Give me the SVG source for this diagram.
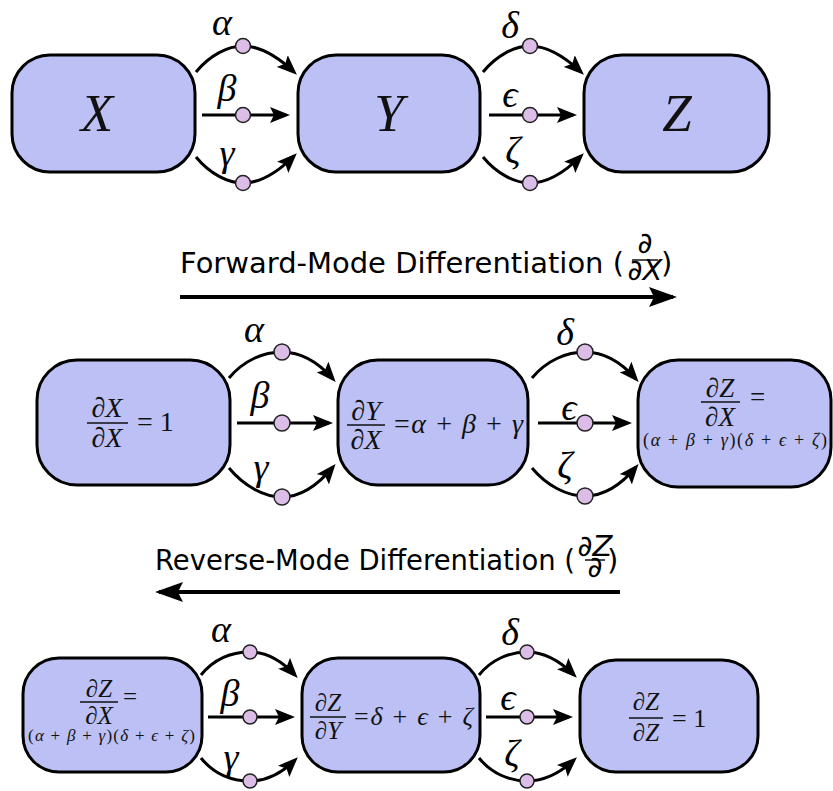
<svg xmlns="http://www.w3.org/2000/svg" width="833" height="791" viewBox="0 0 833 791">
<defs>
<style>
.node{fill:#bcc0f4;stroke:#000;stroke-width:3}
.edge{fill:none;stroke:#000;stroke-width:3}
.big{fill:none;stroke:#000;stroke-width:4}
.dot{fill:#dcbde8;stroke:#222;stroke-width:1.5}
.m{font-family:'Liberation Serif',serif;fill:#111}
.i{font-style:italic}
.lbl{font-family:'Liberation Serif',serif;font-style:italic;font-size:38px;text-anchor:middle;fill:#000}
.t{font-family:'DejaVu Sans',sans-serif;font-size:29px;fill:#000}
.bar{stroke:#111;stroke-width:1.5}
</style>
<marker id="ah" markerUnits="userSpaceOnUse" viewBox="0 0 20 16" markerWidth="20" markerHeight="16" refX="16" refY="8" orient="auto">
<path d="M0,0 L20,8 L0,16 L4,8 z" fill="#000"/>
</marker>
<marker id="bh" markerUnits="userSpaceOnUse" viewBox="0 0 28 20" markerWidth="28" markerHeight="20" refX="24" refY="10" orient="auto">
<path d="M0,0 L28,10 L0,20 L5,10 z" fill="#000"/>
</marker>
</defs>

<!-- Row 1 nodes -->
<g id="X"><rect class="node" x="12" y="55" width="183" height="117" rx="38" ry="38"/>
<text class="m i" x="97" y="131" font-size="53" text-anchor="middle">X</text></g>
<g id="Y"><rect class="node" x="298" y="55" width="182" height="117" rx="38" ry="38"/>
<text class="m i" x="389" y="131" font-size="53" text-anchor="middle">Y</text></g>
<g id="Z"><rect class="node" x="584" y="55" width="185" height="117" rx="38" ry="38"/>
<text class="m i" x="677" y="131" font-size="53" text-anchor="middle">Z</text></g>

<!-- Titles -->
<g id="forward-title">
<text class="t" x="180" y="273" textLength="444" lengthAdjust="spacingAndGlyphs">Forward-Mode Differentiation (</text>
<text class="t" x="645" y="253" font-size="18" text-anchor="middle">∂</text>
<line class="bar" x1="632" y1="260" x2="658" y2="260"/>
<text class="t" x="645" y="280" font-size="18" text-anchor="middle">∂<tspan font-style="italic">X</tspan></text>
<text class="t" x="661" y="273">)</text>
</g>
<g id="reverse-title">
<text class="t" x="155" y="570" textLength="420" lengthAdjust="spacingAndGlyphs">Reverse-Mode Differentiation (</text>
<text class="t" x="595" y="556" font-size="16" text-anchor="middle">∂<tspan font-style="italic">Z</tspan></text>
<line class="bar" x1="585" y1="560" x2="605" y2="560"/>
<text class="t" x="595" y="577" font-size="16" text-anchor="middle">∂</text>
<text class="t" x="607" y="570">)</text>
</g>

<!-- Row 2 nodes -->
<g id="dXdX"><rect class="node" x="37" y="360" width="193" height="125" rx="40" ry="40"/>
<text class="m" x="107" y="417" font-size="28" text-anchor="middle">∂<tspan class="i">X</tspan></text>
<line class="bar" x1="87" y1="423" x2="128" y2="423"/>
<text class="m" x="107" y="447" font-size="28" text-anchor="middle">∂<tspan class="i">X</tspan></text>
<text class="m" x="137" y="431" font-size="28">= 1</text></g>
<g id="dYdX"><rect class="node" x="338" y="360" width="190" height="125" rx="40" ry="40"/>
<text class="m" x="366" y="420" font-size="28" text-anchor="middle">∂<tspan class="i">Y</tspan></text>
<line class="bar" x1="347" y1="425" x2="385" y2="425"/>
<text class="m" x="366" y="449" font-size="28" text-anchor="middle">∂<tspan class="i">X</tspan></text>
<text class="m" x="394" y="433" font-size="28" textLength="129" lengthAdjust="spacing">=<tspan class="i">α</tspan> + <tspan class="i">β</tspan> + <tspan class="i">γ</tspan></text></g>
<g id="dZdX-fwd"><rect class="node" x="638" y="360" width="193" height="127" rx="40" ry="40"/>
<text class="m" x="720" y="397" font-size="27" text-anchor="middle">∂<tspan class="i">Z</tspan></text>
<line class="bar" x1="701" y1="402" x2="740" y2="402"/>
<text class="m" x="720" y="426" font-size="27" text-anchor="middle">∂<tspan class="i">X</tspan></text>
<text class="m" x="750" y="406" font-size="27">=</text>
<text class="m" x="643" y="446" font-size="18" textLength="184" lengthAdjust="spacing">(<tspan class="i">α</tspan> + <tspan class="i">β</tspan> + <tspan class="i">γ</tspan>)(<tspan class="i">δ</tspan> + <tspan class="i">ϵ</tspan> + <tspan class="i">ζ</tspan>)</text></g>

<!-- Row 3 nodes -->
<g id="dZdX-rev"><rect class="node" x="23" y="658" width="179" height="114" rx="36" ry="36"/>
<text class="m" x="99" y="697" font-size="25" text-anchor="middle">∂<tspan class="i">Z</tspan></text>
<line class="bar" x1="80" y1="702" x2="118" y2="702"/>
<text class="m" x="99" y="724" font-size="25" text-anchor="middle">∂<tspan class="i">X</tspan></text>
<text class="m" x="123" y="705" font-size="25">=</text>
<text class="m" x="28" y="741" font-size="17" textLength="167" lengthAdjust="spacing">(<tspan class="i">α</tspan> + <tspan class="i">β</tspan> + <tspan class="i">γ</tspan>)(<tspan class="i">δ</tspan> + <tspan class="i">ϵ</tspan> + <tspan class="i">ζ</tspan>)</text></g>
<g id="dZdY"><rect class="node" x="302" y="658" width="178" height="114" rx="36" ry="36"/>
<text class="m" x="328" y="711" font-size="25" text-anchor="middle">∂<tspan class="i">Z</tspan></text>
<line class="bar" x1="310" y1="717" x2="346" y2="717"/>
<text class="m" x="328" y="739" font-size="25" text-anchor="middle">∂<tspan class="i">Y</tspan></text>
<text class="m" x="354" y="725" font-size="26" textLength="119" lengthAdjust="spacing">=<tspan class="i">δ</tspan> + <tspan class="i">ϵ</tspan> + <tspan class="i">ζ</tspan></text></g>
<g id="dZdZ"><rect class="node" x="580" y="660" width="178" height="112" rx="36" ry="36"/>
<text class="m" x="646" y="710" font-size="25" text-anchor="middle">∂<tspan class="i">Z</tspan></text>
<line class="bar" x1="629" y1="718" x2="663" y2="718"/>
<text class="m" x="646" y="741" font-size="25" text-anchor="middle">∂<tspan class="i">Z</tspan></text>
<text class="m" x="672" y="727" font-size="26">= 1</text></g>

<!-- Connectors -->
<g id="connectors">
<path class="big" d="M180,297 L673,297" marker-end="url(#bh)"/>
<path class="big" d="M620,592 L159,592" marker-end="url(#bh)"/>

<path class="edge" d="M196,72 C210,55 228,46 243,46 C260,46 278,57 294,72" marker-end="url(#ah)"/>
<path class="edge" d="M202,115 L286,115" marker-end="url(#ah)"/>
<path class="edge" d="M196,157 C210,174 228,183 243,183 C260,183 278,172 294,156" marker-end="url(#ah)"/>
<path class="edge" d="M483,72 C497,55 515,46 530,46 C547,46 565,57 581,72" marker-end="url(#ah)"/>
<path class="edge" d="M489,115 L573,115" marker-end="url(#ah)"/>
<path class="edge" d="M483,157 C497,174 515,183 530,183 C547,183 565,172 581,156" marker-end="url(#ah)"/>

<path class="edge" d="M229,378 C244,360 264,352 282,352 C300,352 318,362 333,379" marker-end="url(#ah)"/>
<path class="edge" d="M237,423 L329,423" marker-end="url(#ah)"/>
<path class="edge" d="M229,468 C244,486 264,497 282,497 C300,497 318,485 333,467" marker-end="url(#ah)"/>
<path class="edge" d="M532,378 C547,360 567,352 585,352 C603,352 621,362 636,379" marker-end="url(#ah)"/>
<path class="edge" d="M538,423 L628,423" marker-end="url(#ah)"/>
<path class="edge" d="M532,468 C547,486 567,496 585,496 C603,496 621,485 636,467" marker-end="url(#ah)"/>

<path class="edge" d="M201,675 C214,659 232,652 250,652 C266,652 282,661 295,675" marker-end="url(#ah)"/>
<path class="edge" d="M208,717 L291,717" marker-end="url(#ah)"/>
<path class="edge" d="M201,758 C214,774 232,781 250,781 C266,781 282,773 295,760" marker-end="url(#ah)"/>
<path class="edge" d="M479,675 C492,659 510,652 527,652 C544,652 560,661 574,675" marker-end="url(#ah)"/>
<path class="edge" d="M486,717 L569,717" marker-end="url(#ah)"/>
<path class="edge" d="M479,758 C492,774 510,781 527,781 C544,781 560,773 574,760" marker-end="url(#ah)"/>

<circle class="dot" cx="243" cy="46" r="7.5"/><circle class="dot" cx="243" cy="115" r="7.5"/><circle class="dot" cx="243" cy="183" r="7.5"/>
<circle class="dot" cx="530" cy="46" r="7.5"/><circle class="dot" cx="530" cy="115" r="7.5"/><circle class="dot" cx="530" cy="183" r="7.5"/>
<circle class="dot" cx="282" cy="352" r="8"/><circle class="dot" cx="282" cy="423" r="8"/><circle class="dot" cx="282" cy="497" r="8"/>
<circle class="dot" cx="585" cy="352" r="8"/><circle class="dot" cx="585" cy="423" r="8"/><circle class="dot" cx="585" cy="496" r="8"/>
<circle class="dot" cx="250" cy="652" r="7"/><circle class="dot" cx="250" cy="717" r="7"/><circle class="dot" cx="250" cy="781" r="7"/>
<circle class="dot" cx="527" cy="652" r="7"/><circle class="dot" cx="527" cy="717" r="7"/><circle class="dot" cx="527" cy="781" r="7"/>

<text class="lbl" x="222" y="35">α</text>
<text class="lbl" x="227" y="101">β</text>
<text class="lbl" x="227" y="166">γ</text>
<text class="lbl" x="510" y="38">δ</text>
<text class="lbl" x="510" y="107">ϵ</text>
<text class="lbl" x="513" y="163">ζ</text>

<text class="lbl" x="254" y="342">α</text>
<text class="lbl" x="260" y="408">β</text>
<text class="lbl" x="261" y="480">γ</text>
<text class="lbl" x="565" y="345">δ</text>
<text class="lbl" x="569" y="420">ϵ</text>
<text class="lbl" x="565" y="478">ζ</text>

<text class="lbl" x="221" y="642">α</text>
<text class="lbl" x="230" y="706">β</text>
<text class="lbl" x="231" y="770">γ</text>
<text class="lbl" x="510" y="645">δ</text>
<text class="lbl" x="508" y="710">ϵ</text>
<text class="lbl" x="512" y="766">ζ</text>
</g>
</svg>
